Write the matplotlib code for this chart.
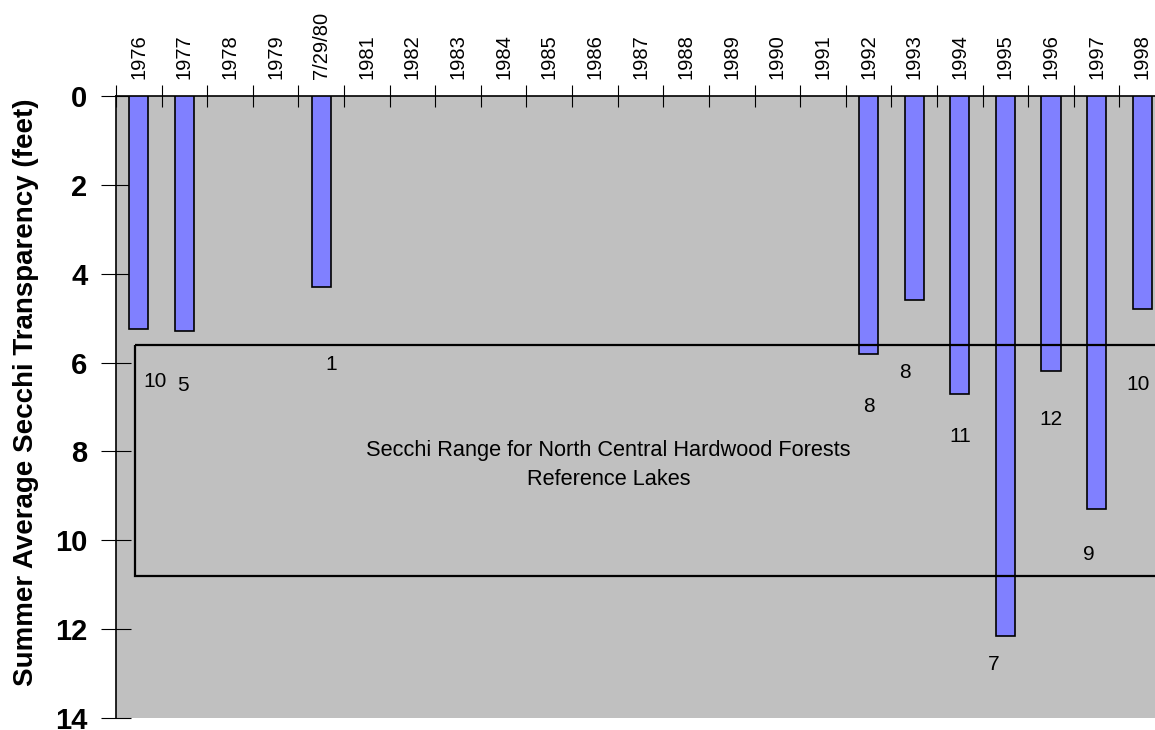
import matplotlib
matplotlib.use("Agg")
from matplotlib import pyplot as plt
from matplotlib.patches import Rectangle

years = ['1976', '1977', '1978', '1979', '7/29/80', '1981', '1982', '1983', '1984',
         '1985', '1986', '1987', '1988', '1989', '1990', '1991', '1992', '1993',
         '1994', '1995', '1996', '1997', '1998']
secchi = [5.25, 5.3, None, None, 4.3, None, None, None, None, None, None, None,
          None, None, None, None, 5.8, 4.6, 6.7, 12.15, 6.2, 9.3, 4.8]
# number of samples, with where they sit on the chart (category x, depth y)
n_labels = ['10', '5', '1', '8', '8', '11', '7', '12', '9', '10']
n_x = [0.36, 0.97, 4.22, 16.0, 16.8, 18.01, 18.74, 19.99, 20.84, 21.9]
n_y = [6.43, 6.52, 6.04, 6.99, 6.22, 7.66, 12.79, 7.28, 10.31, 6.49]
range_top = 5.6
range_bottom = 10.8

fig = plt.figure(figsize=(11.55, 7.3), dpi=100)
ax = fig.add_axes([116/1155, 1-718/730, 1049/1155, 622/730])
ax.set_facecolor('#C0C0C0')

xs = [i for i, v in enumerate(secchi) if v is not None]
vals = [v for v in secchi if v is not None]
ax.bar(xs, vals, width=0.42, color='#8080FF', edgecolor='black', linewidth=1.2, zorder=3)

# reference lake range box
ax.add_patch(Rectangle((-0.08, range_top), 23, range_bottom - range_top,
                       fill=False, edgecolor='black', linewidth=1.6, zorder=4))
ax.text(10.3, 8.3, 'Secchi Range for North Central Hardwood Forests\nReference Lakes',
        ha='center', va='center', fontsize=15.7, family='Liberation Sans',
        linespacing=1.5, zorder=5)

for lab, x, y in zip(n_labels, n_x, n_y):
    ax.text(x, y, lab, ha='center', va='center', fontsize=15,
            family='Liberation Sans', zorder=5)

ax.set_xlim(-0.5, 22.5)
ax.set_ylim(14, 0)

ax.xaxis.tick_top()
ax.set_xticks(range(len(years)))
ax.set_xticklabels(years, rotation=90, fontsize=14.5,
                   family=['Liberation Sans Narrow', 'Liberation Sans'])
ax.tick_params(axis='x', which='major', length=0, pad=12)
ax.set_xticks([i - 0.5 for i in range(len(years) + 1)], minor=True)
ax.tick_params(axis='x', which='minor', direction='inout', length=16, width=0.8)

ax.set_yticks(range(0, 15, 2))
ax.set_yticklabels([str(v) for v in range(0, 15, 2)], fontsize=21, fontweight='bold',
                   family='Liberation Sans')
ax.tick_params(axis='y', direction='inout', length=21, width=0.8, pad=10)

ax.set_ylabel('Summer Average Secchi Transparency (feet)', fontsize=20,
              fontweight='bold', family='Liberation Sans')
ax.yaxis.set_label_coords(-0.0734, 0.524)

ax.spines['bottom'].set_visible(False)
ax.spines['right'].set_visible(False)
ax.spines['left'].set_linewidth(1.2)
ax.spines['top'].set_linewidth(1.2)

fig.savefig('out.png', dpi=100)
